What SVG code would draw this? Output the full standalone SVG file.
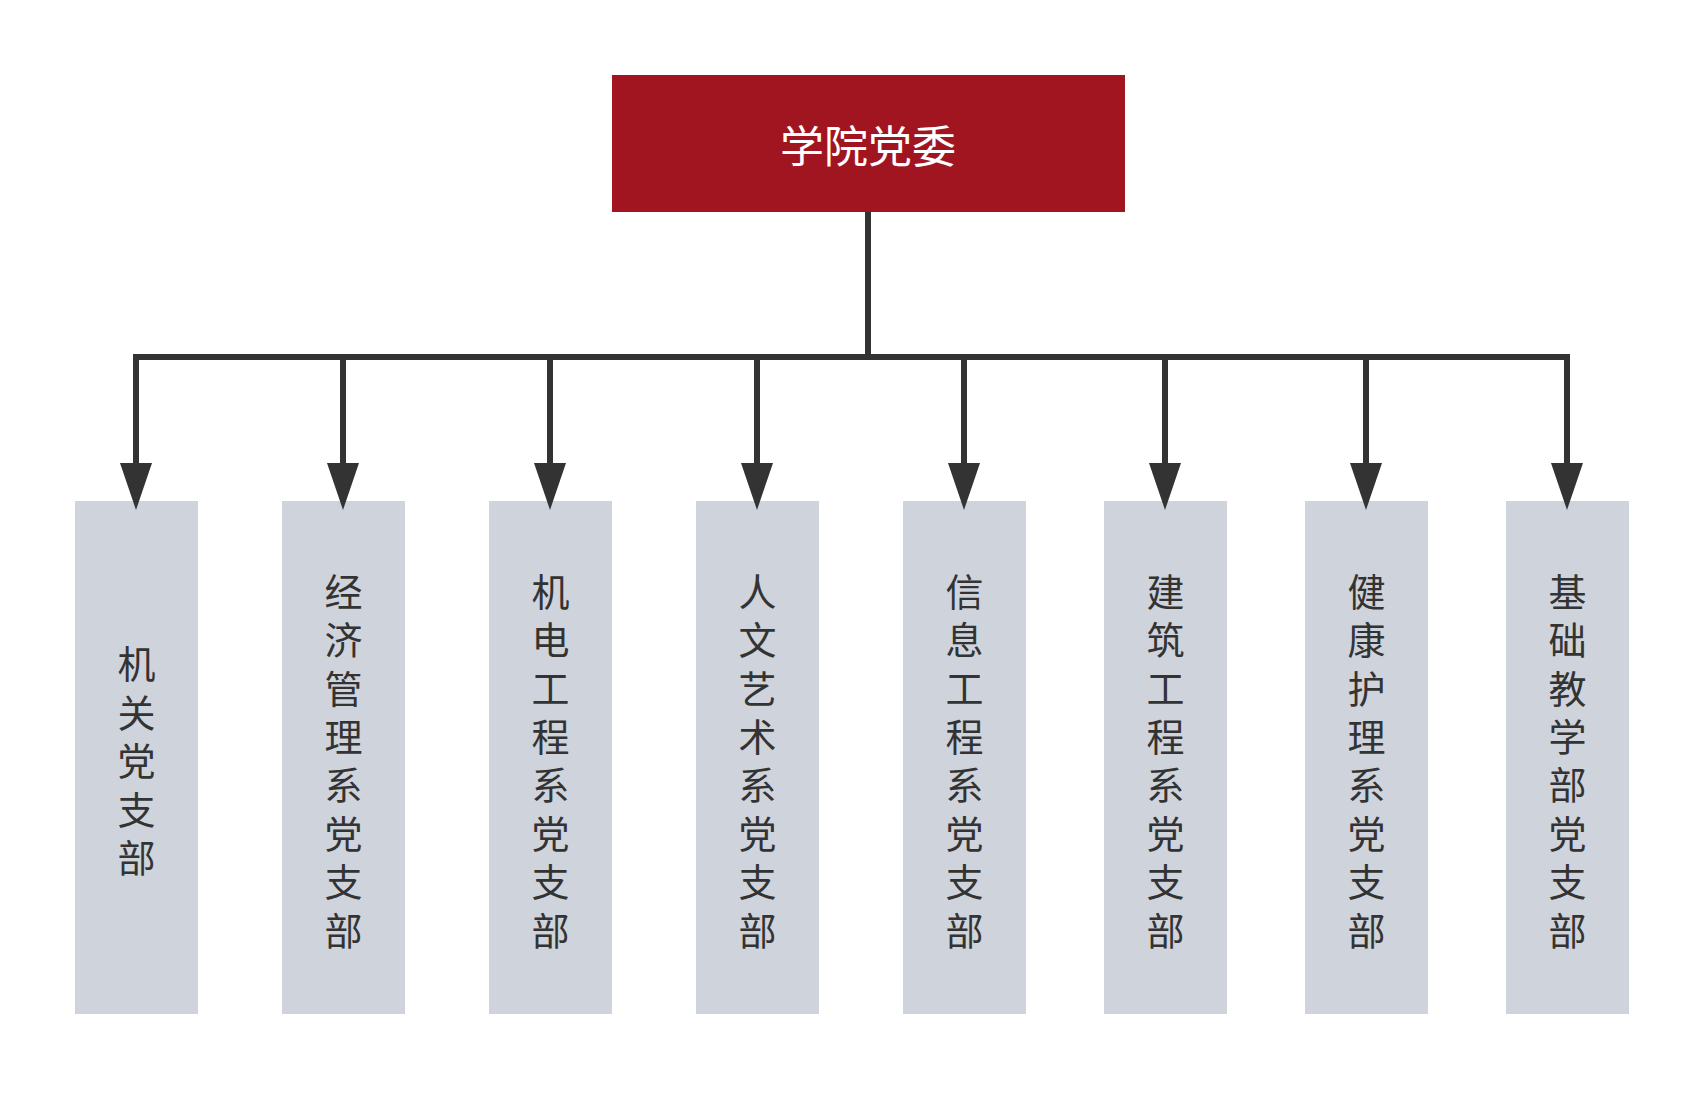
<svg xmlns="http://www.w3.org/2000/svg" width="1704" height="1104" viewBox="0 0 1704 1104">
<defs>
<style>
.box{fill:#cfd3dc}
.lbl{font-family:"Noto Sans CJK SC","Noto Sans",sans-serif;font-size:38px;fill:#333333;text-anchor:middle;writing-mode:vertical-rl;letter-spacing:10.4px}
.conn{fill:none;stroke:#333333;stroke-width:6}
</style>
<marker id="arr" viewBox="0 0 47 32" refX="0" refY="16" markerWidth="47" markerHeight="32" markerUnits="userSpaceOnUse" orient="auto">
<path d="M0 0 L47 16 L0 32 Z" fill="#333333"/>
</marker>
</defs>
<rect width="1704" height="1104" fill="#ffffff"/>
<g id="root">
<rect x="612" y="75" width="513" height="137" fill="#a11520"/>
<text x="868" y="163" font-family="Noto Sans CJK SC, Noto Sans, sans-serif" font-size="44" fill="#ffffff" text-anchor="middle">学院党委</text>
</g>
<g id="n1">
<rect class="box" x="75" y="501" width="123" height="513"/>
<text class="lbl" x="136.5" y="766">机关党支部</text>
</g>
<g id="n2">
<rect class="box" x="282" y="501" width="123" height="513"/>
<text class="lbl" x="343.5" y="766">经济管理系党支部</text>
</g>
<g id="n3">
<rect class="box" x="489" y="501" width="123" height="513"/>
<text class="lbl" x="550.5" y="766">机电工程系党支部</text>
</g>
<g id="n4">
<rect class="box" x="696" y="501" width="123" height="513"/>
<text class="lbl" x="757.5" y="766">人文艺术系党支部</text>
</g>
<g id="n5">
<rect class="box" x="903" y="501" width="123" height="513"/>
<text class="lbl" x="964.5" y="766">信息工程系党支部</text>
</g>
<g id="n6">
<rect class="box" x="1104" y="501" width="123" height="513"/>
<text class="lbl" x="1165.5" y="766">建筑工程系党支部</text>
</g>
<g id="n7">
<rect class="box" x="1305" y="501" width="123" height="513"/>
<text class="lbl" x="1366.5" y="766">健康护理系党支部</text>
</g>
<g id="n8">
<rect class="box" x="1506" y="501" width="123" height="513"/>
<text class="lbl" x="1567.5" y="766">基础教学部党支部</text>
</g>
<g id="connectors">
<path class="conn" d="M868 212 V357"/>
<path class="conn" d="M136 463 V357 H1567 V463"/>
<path class="conn" d="M136 357 V463" marker-end="url(#arr)"/>
<path class="conn" d="M343 357 V463" marker-end="url(#arr)"/>
<path class="conn" d="M550 357 V463" marker-end="url(#arr)"/>
<path class="conn" d="M757 357 V463" marker-end="url(#arr)"/>
<path class="conn" d="M964 357 V463" marker-end="url(#arr)"/>
<path class="conn" d="M1165 357 V463" marker-end="url(#arr)"/>
<path class="conn" d="M1366 357 V463" marker-end="url(#arr)"/>
<path class="conn" d="M1567 357 V463" marker-end="url(#arr)"/>
</g>
</svg>
